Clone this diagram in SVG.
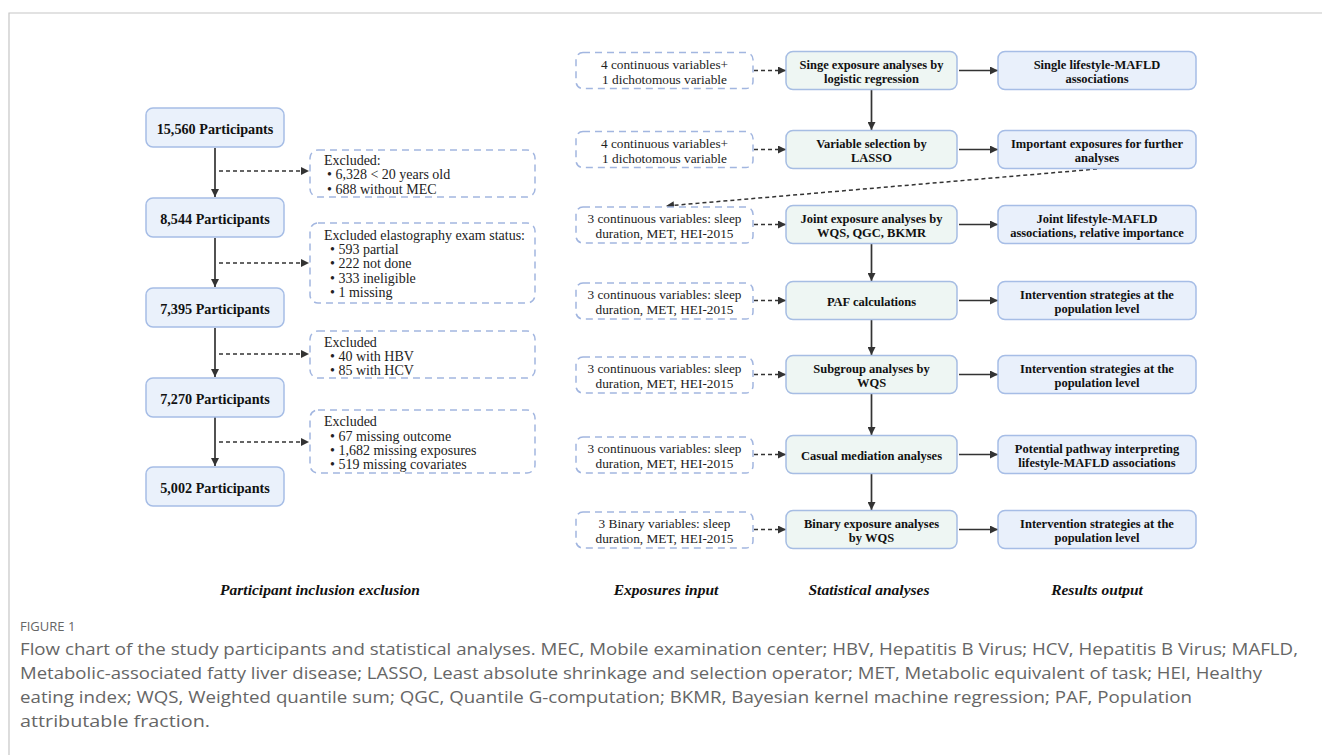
<svg xmlns="http://www.w3.org/2000/svg" width="1322" height="755" viewBox="0 0 1322 755">
<style>
.frame{stroke:#c6c6c6;stroke-width:1.2;fill:none}
.pbox{fill:#eaf1fb;stroke:#a6bde6;stroke-width:1.5}
.gbox{fill:#eef6f3;stroke:#a6bde3;stroke-width:1.5}
.bbox{fill:#e9f0fb;stroke:#a6bde6;stroke-width:1.5}
.dbox{fill:#ffffff;stroke:#a2b6e0;stroke-width:1.5;stroke-dasharray:7 5}
.ptxt{font-family:"Liberation Serif","Times New Roman",serif;font-weight:bold;font-size:14.2px;fill:#111;text-anchor:middle}
.etxt{font-family:"Liberation Serif","Times New Roman",serif;font-size:14px;fill:#222}
.itxt{font-family:"Liberation Serif","Times New Roman",serif;font-size:13.3px;fill:#222;text-anchor:middle}
.btxt{font-family:"Liberation Serif","Times New Roman",serif;font-weight:bold;font-size:12.5px;fill:#111;text-anchor:middle}
.ctxt{font-family:"Liberation Serif","Times New Roman",serif;font-weight:bold;font-style:italic;font-size:15.5px;fill:#111;text-anchor:middle}
.cap{font-family:"Open Sans","Liberation Sans",sans-serif;font-size:16.5px;fill:#666666}
.fig{font-family:"Open Sans","Liberation Sans",sans-serif;font-size:13px;fill:#666666}
.solid{stroke:#333;stroke-width:1.7;fill:none}
.dash{stroke:#333;stroke-width:1.5;fill:none;stroke-dasharray:4 3}
</style>
<defs>
<marker id="ah" viewBox="0 0 10 10" refX="10" refY="5" markerWidth="8" markerHeight="8" markerUnits="userSpaceOnUse" orient="auto"><path d="M0,0 L10,5 L0,10 z" fill="#333"/></marker>
</defs>
<rect x="0" y="0" width="1322" height="755" fill="#ffffff"/>
<path class="frame" d="M9,755 V13 H1322"/>

<g id="connectors">
<line class="solid" x1="215" y1="148" x2="215" y2="197" marker-end="url(#ah)"/>
<line class="solid" x1="215" y1="238" x2="215" y2="287" marker-end="url(#ah)"/>
<line class="solid" x1="215" y1="328" x2="215" y2="377" marker-end="url(#ah)"/>
<line class="solid" x1="215" y1="417" x2="215" y2="466" marker-end="url(#ah)"/>
<line class="dash" x1="219" y1="171" x2="309" y2="171" marker-end="url(#ah)"/>
<line class="dash" x1="219" y1="263" x2="309" y2="263" marker-end="url(#ah)"/>
<line class="dash" x1="219" y1="354" x2="309" y2="354" marker-end="url(#ah)"/>
<line class="dash" x1="219" y1="442" x2="309" y2="442" marker-end="url(#ah)"/>

<line class="dash" x1="754" y1="70.5" x2="786" y2="70.5" marker-end="url(#ah)"/>
<line class="dash" x1="754" y1="149.5" x2="786" y2="149.5" marker-end="url(#ah)"/>
<line class="dash" x1="754" y1="224.5" x2="786" y2="224.5" marker-end="url(#ah)"/>
<line class="dash" x1="754" y1="300.5" x2="786" y2="300.5" marker-end="url(#ah)"/>
<line class="dash" x1="754" y1="374.5" x2="786" y2="374.5" marker-end="url(#ah)"/>
<line class="dash" x1="754" y1="454.5" x2="786" y2="454.5" marker-end="url(#ah)"/>
<line class="dash" x1="754" y1="529.5" x2="786" y2="529.5" marker-end="url(#ah)"/>

<line class="solid" x1="959" y1="70.5" x2="998" y2="70.5" marker-end="url(#ah)"/>
<line class="solid" x1="959" y1="149.5" x2="998" y2="149.5" marker-end="url(#ah)"/>
<line class="solid" x1="959" y1="224.5" x2="998" y2="224.5" marker-end="url(#ah)"/>
<line class="solid" x1="959" y1="300.5" x2="998" y2="300.5" marker-end="url(#ah)"/>
<line class="solid" x1="959" y1="374.5" x2="998" y2="374.5" marker-end="url(#ah)"/>
<line class="solid" x1="959" y1="454.5" x2="998" y2="454.5" marker-end="url(#ah)"/>
<line class="solid" x1="959" y1="529.5" x2="998" y2="529.5" marker-end="url(#ah)"/>

<line class="solid" x1="871.5" y1="90" x2="871.5" y2="130" marker-end="url(#ah)"/>
<line class="solid" x1="871.5" y1="244" x2="871.5" y2="281" marker-end="url(#ah)"/>
<line class="solid" x1="871.5" y1="320" x2="871.5" y2="355" marker-end="url(#ah)"/>
<line class="solid" x1="871.5" y1="394" x2="871.5" y2="435" marker-end="url(#ah)"/>
<line class="solid" x1="871.5" y1="474" x2="871.5" y2="510" marker-end="url(#ah)"/>

<line class="dash" x1="1097" y1="169" x2="666" y2="206" marker-end="url(#ah)"/>
</g>

<g id="p1"><rect class="pbox" x="146" y="108" width="138" height="39" rx="7"/><text class="ptxt" x="215" y="134">15,560 Participants</text></g>
<g id="p2"><rect class="pbox" x="146" y="198" width="138" height="39" rx="7"/><text class="ptxt" x="215" y="224">8,544 Participants</text></g>
<g id="p3"><rect class="pbox" x="146" y="288" width="138" height="39" rx="7"/><text class="ptxt" x="215" y="314">7,395 Participants</text></g>
<g id="p4"><rect class="pbox" x="146" y="378" width="138" height="39" rx="7"/><text class="ptxt" x="215" y="404">7,270 Participants</text></g>
<g id="p5"><rect class="pbox" x="146" y="467" width="138" height="39" rx="7"/><text class="ptxt" x="215" y="493">5,002 Participants</text></g>

<g id="ex1"><rect class="dbox" x="310" y="150" width="225" height="47" rx="8"/>
<text class="etxt" x="324" y="165">Excluded:</text>
<text class="etxt" x="327" y="179">• 6,328 &lt; 20 years old</text>
<text class="etxt" x="327" y="194">• 688 without MEC</text></g>
<g id="ex2"><rect class="dbox" x="310" y="223" width="225" height="80" rx="8"/>
<text class="etxt" x="324" y="240">Excluded elastography exam status:</text>
<text class="etxt" x="330" y="254">• 593 partial</text>
<text class="etxt" x="330" y="268">• 222 not done</text>
<text class="etxt" x="330" y="283">• 333 ineligible</text>
<text class="etxt" x="330" y="297">• 1 missing</text></g>
<g id="ex3"><rect class="dbox" x="310" y="331" width="225" height="47" rx="8"/>
<text class="etxt" x="324" y="347">Excluded</text>
<text class="etxt" x="330" y="361">• 40 with HBV</text>
<text class="etxt" x="330" y="375">• 85 with HCV</text></g>
<g id="ex4"><rect class="dbox" x="310" y="410" width="225" height="63" rx="8"/>
<text class="etxt" x="324" y="426">Excluded</text>
<text class="etxt" x="330" y="441">• 67 missing outcome</text>
<text class="etxt" x="330" y="455">• 1,682 missing exposures</text>
<text class="etxt" x="330" y="469">• 519 missing covariates</text></g>

<g id="in1"><rect class="dbox" x="576" y="52.5" width="177" height="36" rx="7"/><text class="itxt" x="664.5" y="69">4 continuous variables+</text><text class="itxt" x="664.5" y="83.5">1 dichotomous variable</text></g>
<g id="in2"><rect class="dbox" x="576" y="131.5" width="177" height="36" rx="7"/><text class="itxt" x="664.5" y="148">4 continuous variables+</text><text class="itxt" x="664.5" y="162.5">1 dichotomous variable</text></g>
<g id="in3"><rect class="dbox" x="576" y="207" width="177" height="36" rx="7"/><text class="itxt" x="664.5" y="223">3 continuous variables: sleep</text><text class="itxt" x="664.5" y="237.5">duration, MET, HEI-2015</text></g>
<g id="in4"><rect class="dbox" x="576" y="283" width="177" height="36" rx="7"/><text class="itxt" x="664.5" y="299">3 continuous variables: sleep</text><text class="itxt" x="664.5" y="313.5">duration, MET, HEI-2015</text></g>
<g id="in5"><rect class="dbox" x="576" y="357" width="177" height="36" rx="7"/><text class="itxt" x="664.5" y="373">3 continuous variables: sleep</text><text class="itxt" x="664.5" y="387.5">duration, MET, HEI-2015</text></g>
<g id="in6"><rect class="dbox" x="576" y="437" width="177" height="36" rx="7"/><text class="itxt" x="664.5" y="453">3 continuous variables: sleep</text><text class="itxt" x="664.5" y="467.5">duration, MET, HEI-2015</text></g>
<g id="in7"><rect class="dbox" x="576" y="512" width="177" height="36" rx="7"/><text class="itxt" x="664.5" y="528">3 Binary variables: sleep</text><text class="itxt" x="664.5" y="542.5">duration, MET, HEI-2015</text></g>

<g id="s1"><rect class="gbox" x="786" y="51.5" width="171" height="38" rx="7"/><text class="btxt" x="871.5" y="69">Singe exposure analyses by</text><text class="btxt" x="871.5" y="83">logistic regression</text></g>
<g id="s2"><rect class="gbox" x="786" y="130.5" width="171" height="38" rx="7"/><text class="btxt" x="871.5" y="148">Variable selection by</text><text class="btxt" x="871.5" y="162">LASSO</text></g>
<g id="s3"><rect class="gbox" x="786" y="205.5" width="171" height="38" rx="7"/><text class="btxt" x="871.5" y="223">Joint exposure analyses by</text><text class="btxt" x="871.5" y="237">WQS, QGC, BKMR</text></g>
<g id="s4"><rect class="gbox" x="786" y="281.5" width="171" height="38" rx="7"/><text class="btxt" x="871.5" y="306">PAF calculations</text></g>
<g id="s5"><rect class="gbox" x="786" y="355.5" width="171" height="38" rx="7"/><text class="btxt" x="871.5" y="373">Subgroup analyses by</text><text class="btxt" x="871.5" y="387">WQS</text></g>
<g id="s6"><rect class="gbox" x="786" y="435.5" width="171" height="38" rx="7"/><text class="btxt" x="871.5" y="460">Casual mediation analyses</text></g>
<g id="s7"><rect class="gbox" x="786" y="510.5" width="171" height="38" rx="7"/><text class="btxt" x="871.5" y="528">Binary exposure analyses</text><text class="btxt" x="871.5" y="542">by WQS</text></g>

<g id="r1"><rect class="bbox" x="998" y="51.5" width="198" height="38" rx="7"/><text class="btxt" x="1097" y="69">Single lifestyle-MAFLD</text><text class="btxt" x="1097" y="83">associations</text></g>
<g id="r2"><rect class="bbox" x="998" y="130.5" width="198" height="38" rx="7"/><text class="btxt" x="1097" y="148">Important exposures for further</text><text class="btxt" x="1097" y="162">analyses</text></g>
<g id="r3"><rect class="bbox" x="998" y="205.5" width="198" height="38" rx="7"/><text class="btxt" x="1097" y="223">Joint lifestyle-MAFLD</text><text class="btxt" x="1097" y="237">associations, relative importance</text></g>
<g id="r4"><rect class="bbox" x="998" y="281.5" width="198" height="38" rx="7"/><text class="btxt" x="1097" y="299">Intervention strategies at the</text><text class="btxt" x="1097" y="313">population level</text></g>
<g id="r5"><rect class="bbox" x="998" y="355.5" width="198" height="38" rx="7"/><text class="btxt" x="1097" y="373">Intervention strategies at the</text><text class="btxt" x="1097" y="387">population level</text></g>
<g id="r6"><rect class="bbox" x="998" y="435.5" width="198" height="38" rx="7"/><text class="btxt" x="1097" y="453">Potential pathway interpreting</text><text class="btxt" x="1097" y="467">lifestyle-MAFLD associations</text></g>
<g id="r7"><rect class="bbox" x="998" y="510.5" width="198" height="38" rx="7"/><text class="btxt" x="1097" y="528">Intervention strategies at the</text><text class="btxt" x="1097" y="542">population level</text></g>

<g id="column-labels">
<text class="ctxt" x="320" y="595">Participant inclusion exclusion</text>
<text class="ctxt" x="666" y="595">Exposures input</text>
<text class="ctxt" x="869" y="595">Statistical analyses</text>
<text class="ctxt" x="1097" y="595">Results output</text>
</g>

<g id="caption">
<text class="fig" x="20" y="631">FIGURE 1</text>
<text class="cap" x="20" y="655" textLength="1278" lengthAdjust="spacingAndGlyphs">Flow chart of the study participants and statistical analyses. MEC, Mobile examination center; HBV, Hepatitis B Virus; HCV, Hepatitis B Virus; MAFLD,</text>
<text class="cap" x="20" y="679" textLength="1242" lengthAdjust="spacingAndGlyphs">Metabolic-associated fatty liver disease; LASSO, Least absolute shrinkage and selection operator; MET, Metabolic equivalent of task; HEI, Healthy</text>
<text class="cap" x="20" y="703" textLength="1172" lengthAdjust="spacingAndGlyphs">eating index; WQS, Weighted quantile sum; QGC, Quantile G-computation; BKMR, Bayesian kernel machine regression; PAF, Population</text>
<text class="cap" x="20" y="727" textLength="190" lengthAdjust="spacingAndGlyphs">attributable fraction.</text>
</g>
</svg>
